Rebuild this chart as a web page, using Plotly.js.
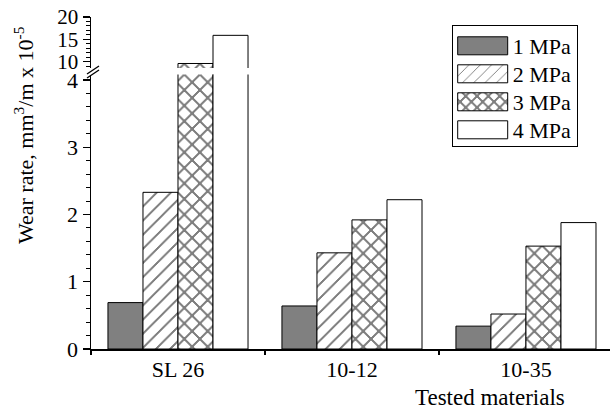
<!DOCTYPE html>
<html>
<head>
<meta charset="utf-8">
<script src="https://cdn.plot.ly/plotly-3.0.1.min.js"></script>
<style>
html,body{margin:0;padding:0;overflow:hidden;background:#fff}
#chart pattern path{shape-rendering:crispEdges}
</style>
</head>
<body>
<div id="chart" style="width:610px;height:414px"></div>
<script>
// ---- data ----
const categories = ['SL 26', '10-12', '10-35'];
const seriesNames = ['1 MPa', '2 MPa', '3 MPa', '4 MPa'];
const wear1MPa = [0.69, 0.64, 0.34];
const wear2MPa = [2.33, 1.43, 0.52];
const wear3MPa = [9.6, 1.92, 1.53];
const wear4MPa = [15.9, 2.22, 1.88];
const lowerTicks = [0, 1, 2, 3, 4];
const upperTicks = [10, 15, 20];

const seriesValues = [wear1MPa, wear2MPa, wear3MPa, wear4MPa];
const fills = [
  {color: '#808080', pattern: {shape: ''}},
  {color: '#ffffff', pattern: {shape: '/', fgcolor: '#000', bgcolor: '#fff', size: 10, solidity: 0.15, fillmode: 'overlay'}},
  {color: '#ffffff', pattern: {shape: 'x', fgcolor: '#000', bgcolor: '#fff', size: 11, solidity: 0.32, fillmode: 'overlay'}},
  {color: '#ffffff', pattern: {shape: ''}}
];

const FAMILY = 'Liberation Serif, Times New Roman, serif';
const F = (size) => ({family: FAMILY, size: size, color: '#000'});

const traces = [];
['y', 'y2'].forEach((ax, k) => {
  seriesValues.forEach((vals, i) => {
    traces.push({
      type: 'bar', x: categories, y: vals, name: seriesNames[i],
      xaxis: 'x', yaxis: ax, showlegend: k === 0, legendgroup: seriesNames[i],
      marker: {color: fills[i].color, pattern: fills[i].pattern, line: {color: '#000', width: 1}}
    });
  });
});

const W = 519, H = 332, L = 91, T = 17;
const px = x => (x - L) / W;
const py = y => (T + H - y) / H;

const layout = {
  width: 610, height: 414,
  margin: {l: L, r: 0, t: T, b: 414 - T - H, pad: 0},
  paper_bgcolor: '#fff', plot_bgcolor: '#fff',
  font: F(22),
  barmode: 'group', bargap: 0.195, bargroupgap: 0,
  showlegend: true,
  legend: {
    x: px(451.7), y: py(25), xanchor: 'left', yanchor: 'top',
    bordercolor: '#000', borderwidth: 1, bgcolor: '#fff',
    font: F(22), itemwidth: 50, tracegroupgap: 0, traceorder: 'normal'
  },
  xaxis: {
    type: 'category', range: [-0.5, 2.483], showline: true, linecolor: '#000', linewidth: 1.5,
    ticks: 'outside', tickson: 'boundaries', ticklen: 4, tickcolor: '#000', tickwidth: 1.2,
    showgrid: false, zeroline: false, tickfont: F(22), fixedrange: true
  },
  yaxis: {
    domain: [0, py(74.5)], range: [0, 4.082], anchor: 'x',
    tickvals: lowerTicks, ticktext: lowerTicks.map(String),
    showline: true, linecolor: '#000', linewidth: 1.5,
    ticks: 'outside', ticklen: 7, tickwidth: 1.2, tickcolor: '#000',
    minor: {dtick: 0.2, ticks: 'outside', ticklen: 4, tickwidth: 1, tickcolor: '#000', showgrid: false},
    showgrid: false, zeroline: false, tickfont: F(22)
  },
  yaxis2: {
    domain: [py(68), 1], range: [8.59, 20], anchor: 'x',
    tickvals: upperTicks, ticktext: upperTicks.map(String),
    showline: true, linecolor: '#000', linewidth: 1.5,
    ticks: 'outside', ticklen: 7, tickwidth: 1.2, tickcolor: '#000',
    minor: {dtick: 1, ticks: 'outside', ticklen: 4, tickwidth: 1, tickcolor: '#000', showgrid: false},
    showgrid: false, zeroline: false, tickfont: F(21)
  },
  annotations: [
    {text: 'Wear rate, mm<sup>3</sup>/m x 10<sup>-5</sup>', textangle: -90, showarrow: false,
     xref: 'paper', yref: 'paper', x: px(24), y: py(135), xanchor: 'center', yanchor: 'middle', font: F(22)},
    {text: 'Tested materials', showarrow: false, xref: 'paper', yref: 'paper',
     x: px(489.5), y: py(397), xanchor: 'center', yanchor: 'middle', font: F(23)}
  ],
  shapes: [
    {type: 'line', xref: 'paper', yref: 'paper', x0: px(87), y0: py(74), x1: px(99), y1: py(66), line: {color: '#000', width: 1.3}},
    {type: 'line', xref: 'paper', yref: 'paper', x0: px(87), y0: py(78), x1: px(99), y1: py(70), line: {color: '#000', width: 1.3}}
  ]
};

Plotly.newPlot('chart', traces, layout, {displayModeBar: false, staticPlot: true}).then(gd => {
  // enlarge legend swatches and tighten spacing to match the reference
  const items = gd.querySelectorAll('.legend .traces');
  let x0 = null, y0 = null;
  items.forEach((t, i) => {
    const m = /translate\(([-\d.]+)[ ,]+([-\d.]+)\)/.exec(t.getAttribute('transform') || '');
    if (m && x0 === null) { x0 = parseFloat(m[1]); y0 = parseFloat(m[2]); }
    if (x0 !== null) t.setAttribute('transform', 'translate(' + x0 + ',' + (y0 - 1 + i * 28) + ')');
    t.querySelectorAll('.legendpoints path').forEach(p => {
      p.setAttribute('d', 'M25,9H-25V-9H25Z');
      p.setAttribute('transform', 'translate(30,0)');
    });
  });
  const bg = gd.querySelector('.legend .bg');
  if (bg) bg.setAttribute('height', '121');
});
</script>
</body>
</html>
